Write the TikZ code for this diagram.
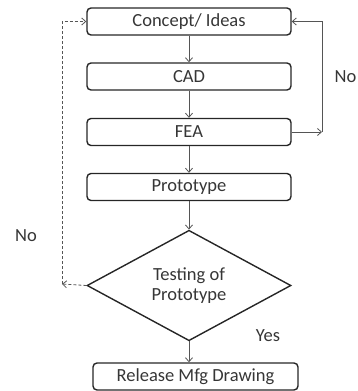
\documentclass[tikz,border=0pt]{standalone}
\usepackage{fontspec}
\setmainfont{Carlito}
\usetikzlibrary{shapes.geometric,arrows.meta}
\definecolor{txt}{HTML}{363636}
\definecolor{ln}{HTML}{555555}
\begin{document}
\begin{tikzpicture}[x=1pt,y=-1pt,
  stepbox/.style={draw=black!85,line width=1.4pt,rounded corners=4pt,minimum width=204pt,minimum height=27pt,inner sep=0pt,font=\fontsize{18.5}{20}\selectfont,text=txt},
  conn/.style={draw=ln,line width=0.8pt,-{Straight Barb[length=4pt,width=7pt]}},
  dconn/.style={draw=ln,line width=0.8pt,densely dashed,-{Straight Barb[length=4pt,width=7pt]}},
  lbl/.style={font=\fontsize{18.5}{20}\selectfont,text=txt}]
\useasboundingbox (0,0) rectangle (357,391);
\node[stepbox] (concept) at (189,21.5) {Concept/ Ideas};
\node[stepbox] (cad) at (189,76.5) {CAD};
\node[stepbox] (fea) at (189,132) {FEA};
\node[stepbox] (proto) at (189,187) {Prototype};
\node[draw=black!85,line width=1.4pt,diamond,minimum width=204pt,minimum height=101pt,inner sep=0pt,align=center,font=\fontsize{18.5}{20}\selectfont,text=txt] (test) at (189,285.5) {Testing of\\Prototype};
\node[stepbox,minimum width=205pt] (rel) at (195.5,376.5) {Release Mfg Drawing};
\draw[conn] (concept.south) -- (cad.north);
\draw[conn] (cad.south) -- (fea.north);
\draw[conn] (fea.south) -- (proto.north);
\draw[conn] (proto.south) -- (test.north);
\draw[conn] (test.south) -- (test.south |- rel.north);
\coordinate (rc) at (322,132);
\draw[conn] (fea.east) -- (rc);
\draw[conn] (rc) |- (concept.east);
\coordinate (lc) at (62,284);
\draw[dconn] (test.west) -- (lc);
\draw[dconn] (lc) |- (concept.west);
\node[lbl,anchor=east,inner sep=0pt] (nor) at (356.5,77) {No};
\node[lbl] (nol) at (26,236) {No};
\node[lbl] (yes) at (268,336) {Yes};
\end{tikzpicture}
\end{document}
